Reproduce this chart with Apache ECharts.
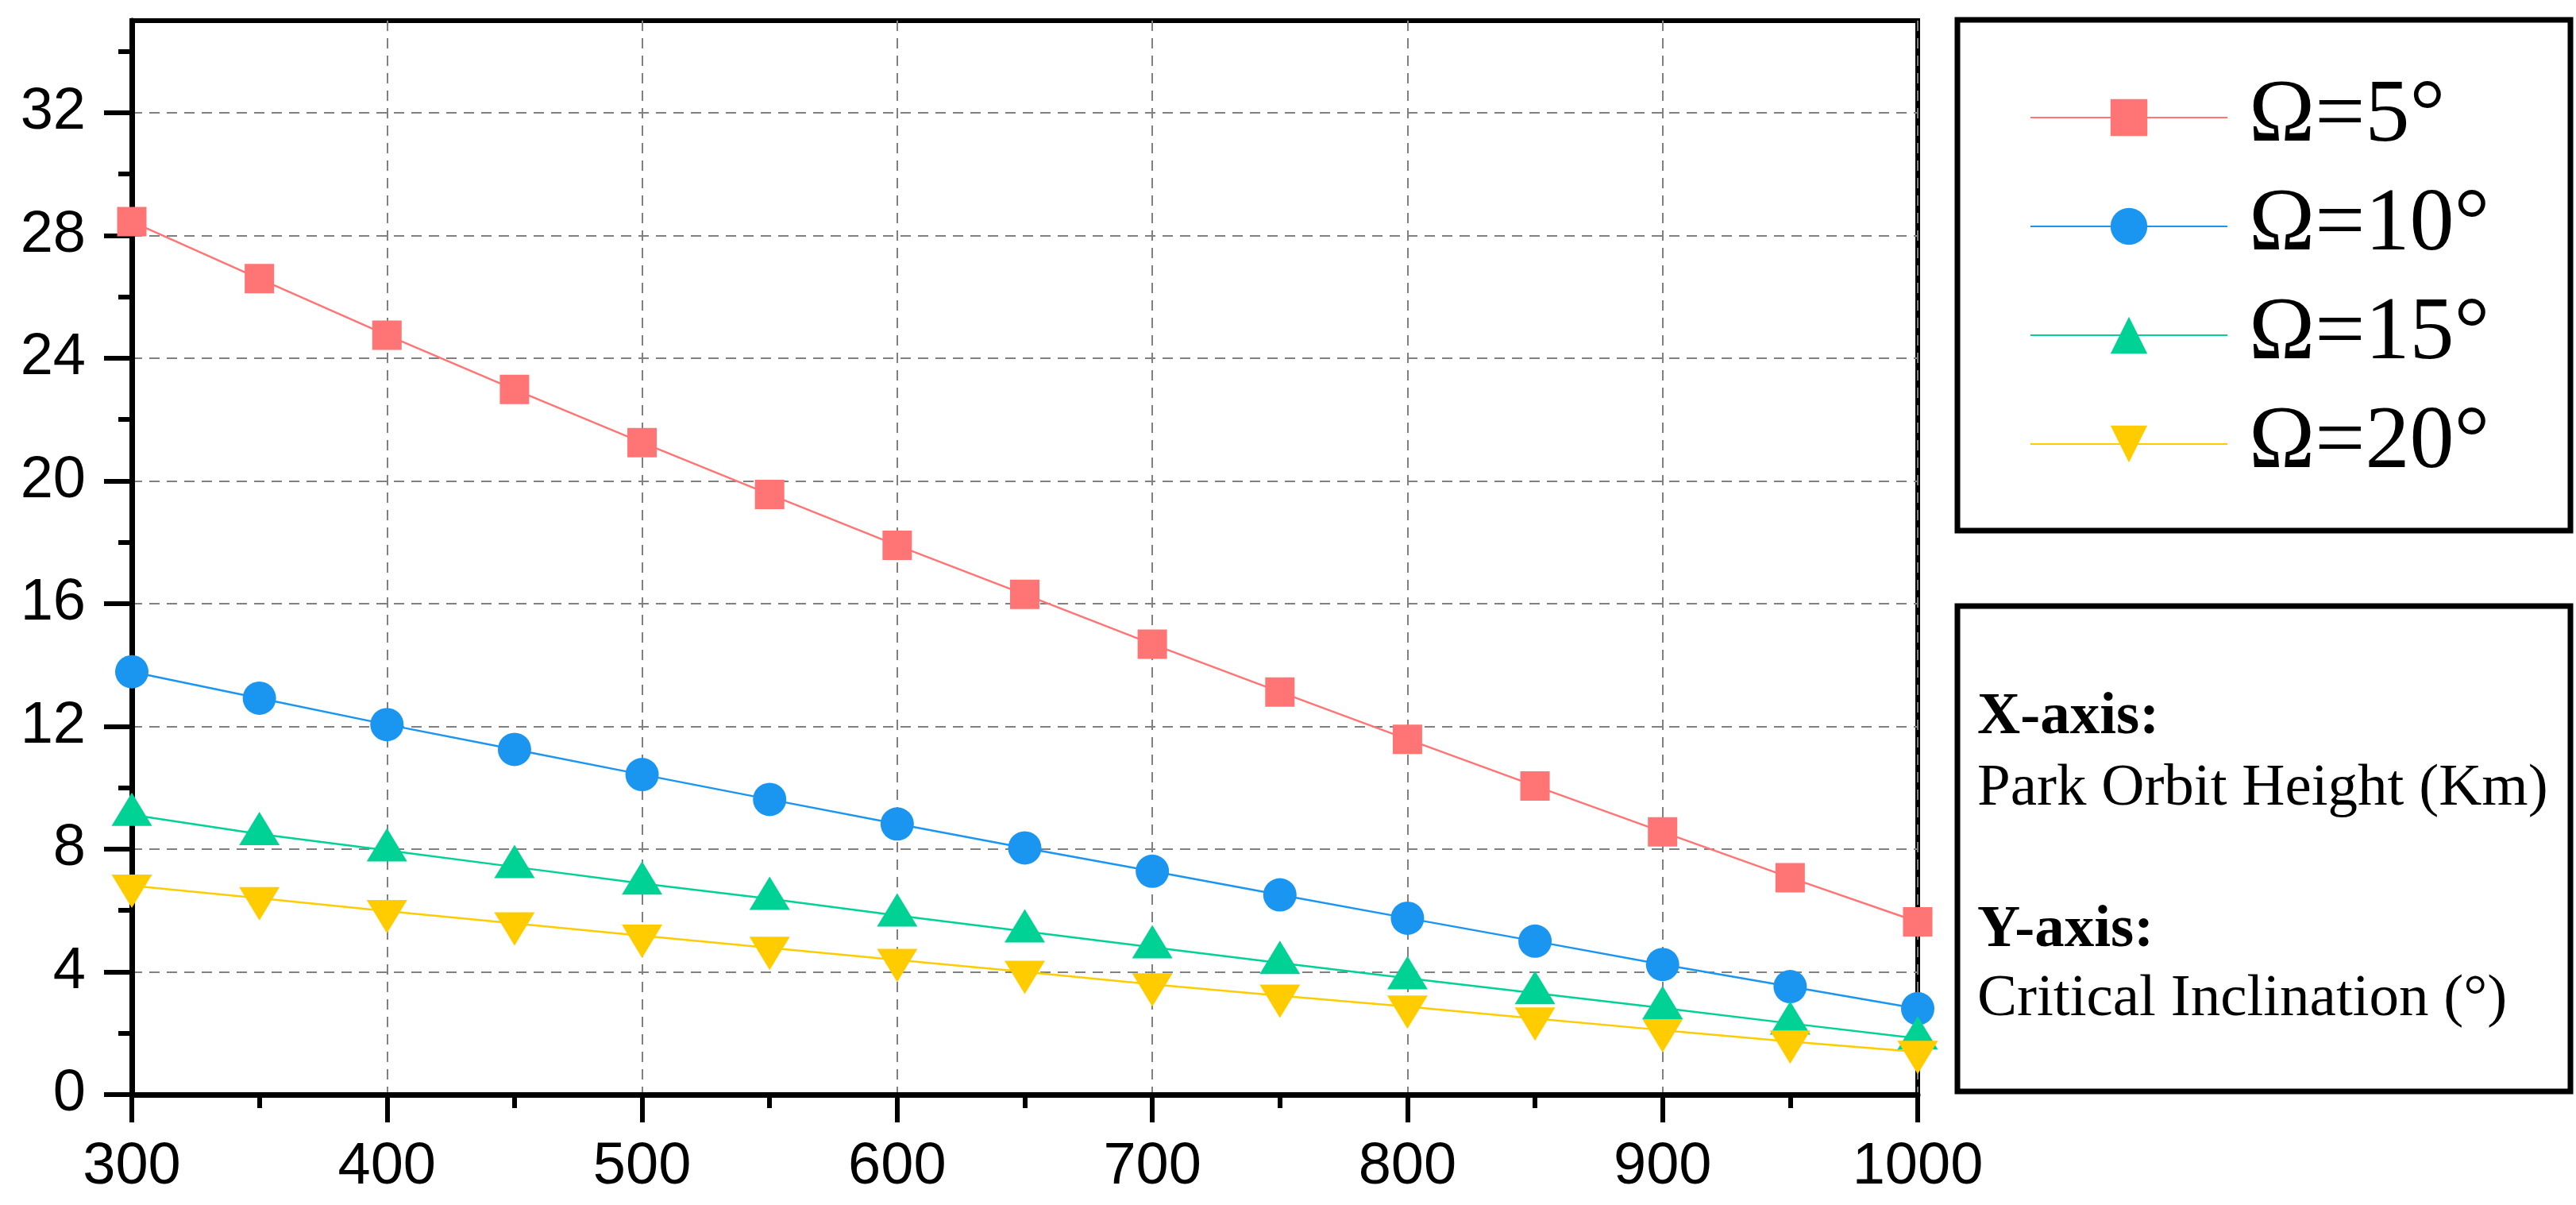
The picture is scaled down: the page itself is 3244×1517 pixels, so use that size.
<!DOCTYPE html>
<html>
<head>
<meta charset="utf-8">
<script src="https://cdn.jsdelivr.net/npm/echarts@6/dist/echarts.min.js"></script>
<style>
html,body{margin:0;padding:0;background:#fff;}
#chart{width:3244px;height:1517px;}
</style>
</head>
<body>
<div id="chart"></div>
<script>
// ---- data ----
const heights = [300, 350, 400, 450, 500, 550, 600, 650, 700, 750, 800, 850, 900, 950, 1000];
const omega5  = [28.45, 26.59, 24.75, 22.98, 21.25, 19.56, 17.90, 16.30, 14.68, 13.12, 11.58, 10.06, 8.56, 7.07, 5.63];
const omega10 = [13.78, 12.92, 12.06, 11.25, 10.43, 9.62, 8.82, 8.04, 7.28, 6.51, 5.75, 5.00, 4.24, 3.52, 2.80];
const omega15 = [9.12, 8.49, 7.96, 7.42, 6.88, 6.38, 5.84, 5.32, 4.80, 4.29, 3.79, 3.31, 2.82, 2.32, 1.83];
const omega20 = [6.81, 6.40, 5.98, 5.58, 5.18, 4.78, 4.39, 4.00, 3.59, 3.22, 2.87, 2.48, 2.10, 1.73, 1.39];
const seriesNames = ['Ω=5°', 'Ω=10°', 'Ω=15°', 'Ω=20°'];
const yMajorTicks = [0, 4, 8, 12, 16, 20, 24, 28, 32];
const yMinorTicks = [2, 6, 10, 14, 18, 22, 26, 30, 34];
const infoLines = ['X-axis:', 'Park Orbit Height (Km)', 'Y-axis:', 'Critical Inclination (°)'];

const pair = (ys) => heights.map((x, i) => [x, ys[i]]);

const chart = echarts.init(document.getElementById('chart'), null, {renderer: 'canvas'});
const sans = 'Liberation Sans, Arial, sans-serif';
const serif = 'Liberation Serif, Times New Roman, serif';
const gridLine = {show: true, lineStyle: {color: '#808080', width: 2, type: [13, 9]}};

function mk(name, data, color, symbol, size, offset) {
  return {
    name: name, type: 'line', data: pair(data),
    symbol: symbol, symbolSize: size, symbolOffset: offset || [0, 0],
    lineStyle: {color: color, width: 2.5},
    itemStyle: {color: color},
    emphasis: {disabled: true},
    animation: false, z: 3
  };
}

chart.setOption({
  backgroundColor: '#fff',
  animation: false,
  grid: {left: 166, right: 829, top: 26, bottom: 139, show: true, borderColor: '#000', borderWidth: 6, backgroundColor: 'transparent'},
  legend: {
    orient: 'vertical', left: 2551, top: 87,
    itemWidth: 248, itemHeight: 58, itemGap: 25,
    textStyle: {fontFamily: serif, fontSize: 112, color: '#000', padding: [0, 0, 0, 22]},
    data: seriesNames
  },
  xAxis: {
    type: 'value', min: 300, max: 1000, interval: 100,
    axisLine: {show: true, lineStyle: {color: '#000', width: 7}},
    axisTick: {show: true, inside: false, length: 35, lineStyle: {color: '#000', width: 6}},
    minorTick: {show: true, splitNumber: 2, length: 17, lineStyle: {color: '#000', width: 6}},
    splitLine: gridLine,
    axisLabel: {fontFamily: sans, fontSize: 74, color: '#000', margin: 55, formatter: (v) => String(v)}
  },
  yAxis: [{
    type: 'value', min: 0, max: 35, position: 'left',
    axisLine: {show: true, lineStyle: {color: '#000', width: 7}},
    axisTick: {show: true, inside: false, length: 35, customValues: yMajorTicks, lineStyle: {color: '#000', width: 6}},
    splitLine: gridLine,
    axisLabel: {fontFamily: sans, fontSize: 74, color: '#000', margin: 58, customValues: yMajorTicks}
  }, {
    type: 'value', min: 0, max: 35, position: 'left',
    axisLine: {show: false},
    axisTick: {show: true, inside: false, length: 17, customValues: yMinorTicks, lineStyle: {color: '#000', width: 6}},
    splitLine: {show: false},
    axisLabel: {show: false}
  }],
  series: [
    mk(seriesNames[0], omega5, '#FF7575', 'rect', 37),
    mk(seriesNames[1], omega10, '#1A96F0', 'circle', 42),
    mk(seriesNames[2], omega15, '#00D296', 'triangle', [51, 42], [0, -7]),
    mk(seriesNames[3], omega20, '#FFCC00', 'path://M0,0 L2,0 L1,2 Z', [51, 42], [0, 7])
  ],
  graphic: [
    {type: 'rect', shape: {x: 2465, y: 25, width: 772, height: 643}, style: {fill: 'none', stroke: '#000', lineWidth: 7}, z: 10},
    {type: 'rect', shape: {x: 2465, y: 763, width: 772, height: 611}, style: {fill: 'none', stroke: '#000', lineWidth: 7}, z: 10},
    {type: 'text', x: 2490, y: 866, style: {text: infoLines[0], font: 'bold 75px ' + serif, fill: '#000', textVerticalAlign: 'top'}},
    {type: 'text', x: 2490, y: 956, style: {text: infoLines[1], font: '75px ' + serif, fill: '#000', textVerticalAlign: 'top'}},
    {type: 'text', x: 2490, y: 1134, style: {text: infoLines[2], font: 'bold 75px ' + serif, fill: '#000', textVerticalAlign: 'top'}},
    {type: 'text', x: 2490, y: 1221, style: {text: infoLines[3], font: '75px ' + serif, fill: '#000', textVerticalAlign: 'top'}}
  ]
});
</script>
</body>
</html>
